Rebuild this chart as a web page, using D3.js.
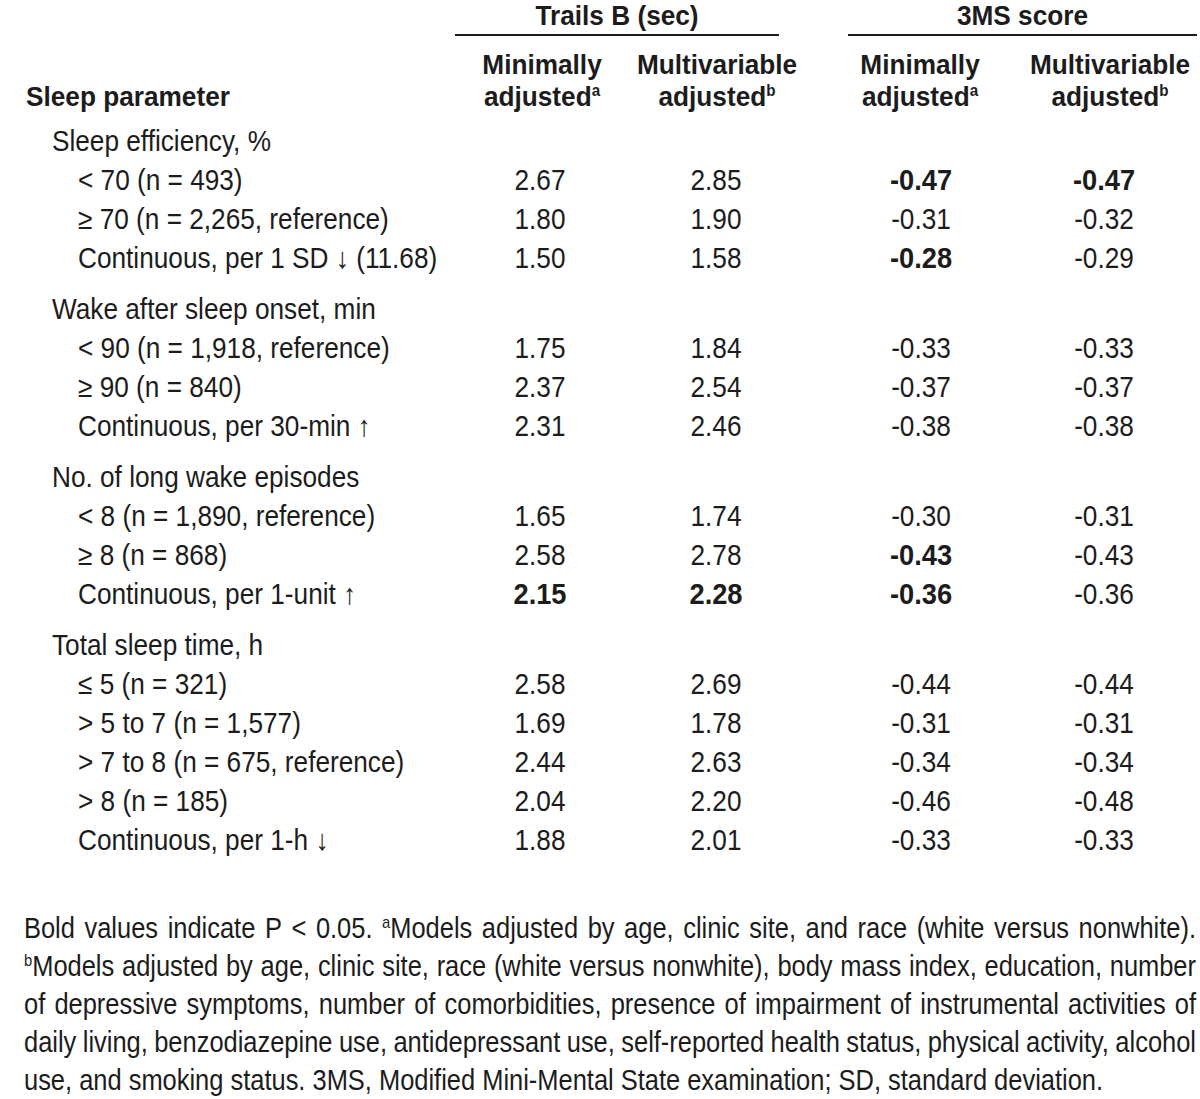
<!DOCTYPE html>
<html>
<head>
<meta charset="utf-8">
<script src="https://cdn.jsdelivr.net/npm/d3@7"></script>
<style>
  html, body { margin: 0; padding: 0; background: #fff; }
  svg { display: block; }
</style>
</head>
<body>
<svg id="chart" width="1200" height="1099"></svg>
<script>
// ---------------- DATA ----------------
const columnGroups = ["Trails B (sec)", "3MS score"];
const columnKeys = ["trailsMin", "trailsMulti", "msMin", "msMulti"];
const columnHeaders = [
  ["Minimally", "adjusted", "a"],
  ["Multivariable", "adjusted", "b"],
  ["Minimally", "adjusted", "a"],
  ["Multivariable", "adjusted", "b"]
];
const rowHeaderTitle = "Sleep parameter";

// kind: "g" = group heading, "r" = data row
const rowKinds = ["g","r","r","r","g","r","r","r","g","r","r","r","g","r","r","r","r","r"];
const rowLabels = [
  "Sleep efficiency, %",
  "< 70 (n = 493)",
  "≥ 70 (n = 2,265, reference)",
  "Continuous, per 1 SD ↓ (11.68)",
  "Wake after sleep onset, min",
  "< 90 (n = 1,918, reference)",
  "≥ 90 (n = 840)",
  "Continuous, per 30-min ↑",
  "No. of long wake episodes",
  "< 8 (n = 1,890, reference)",
  "≥ 8 (n = 868)",
  "Continuous, per 1-unit ↑",
  "Total sleep time, h",
  "≤ 5 (n = 321)",
  "> 5 to 7 (n = 1,577)",
  "> 7 to 8 (n = 675, reference)",
  "> 8 (n = 185)",
  "Continuous, per 1-h ↓"
];
const trailsMin   = [null,"2.67","1.80","1.50",null,"1.75","2.37","2.31",null,"1.65","2.58","2.15",null,"2.58","1.69","2.44","2.04","1.88"];
const trailsMulti = [null,"2.85","1.90","1.58",null,"1.84","2.54","2.46",null,"1.74","2.78","2.28",null,"2.69","1.78","2.63","2.20","2.01"];
const msMin       = [null,"-0.47","-0.31","-0.28",null,"-0.33","-0.37","-0.38",null,"-0.30","-0.43","-0.36",null,"-0.44","-0.31","-0.34","-0.46","-0.33"];
const msMulti     = [null,"-0.47","-0.32","-0.29",null,"-0.33","-0.37","-0.38",null,"-0.31","-0.43","-0.36",null,"-0.44","-0.31","-0.34","-0.48","-0.33"];
// bold = P < 0.05
const trailsMinBold   = [0,0,0,0,0,0,0,0,0,0,0,1,0,0,0,0,0,0];
const trailsMultiBold = [0,0,0,0,0,0,0,0,0,0,0,1,0,0,0,0,0,0];
const msMinBold       = [0,1,0,1,0,0,0,0,0,0,1,1,0,0,0,0,0,0];
const msMultiBold     = [0,1,0,0,0,0,0,0,0,0,0,0,0,0,0,0,0,0];

const footnoteLines = [
  [{t:"Bold values indicate P < 0.05. "},{t:"a",sup:true},{t:"Models adjusted by age, clinic site, and race (white versus nonwhite)."}],
  [{t:"b",sup:true},{t:"Models adjusted by age, clinic site, race (white versus nonwhite), body mass index, education, number"}],
  [{t:"of depressive symptoms, number of comorbidities, presence of impairment of instrumental activities of"}],
  [{t:"daily living, benzodiazepine use, antidepressant use, self-reported health status, physical activity, alcohol"}],
  [{t:"use, and smoking status. 3MS, Modified Mini-Mental State examination; SD, standard deviation."}]
];
const footnoteJustified = [true, true, true, true, false];

// ---------------- DRAW ----------------
const svg = d3.select("#chart");
const FONT = "'Liberation Sans Narrow','Arial Narrow','Liberation Sans',Arial,sans-serif";
const COLOR = "#1c1c1c";
const FS = 29;      // body size
const FSH = 27.5;   // header size

function measure(str, weight, size) {
  const t = svg.append("text").attr("font-family", FONT).attr("font-size", size)
    .attr("font-weight", weight).text(str);
  const w = t.node().getComputedTextLength();
  t.remove();
  return w;
}
const sxReg  = 311 / measure("≥ 70 (n = 2,265, reference)", "normal", FS);
const sxBold = sxReg * measure("2.15", "normal", FS) / measure("2.15", "bold", FS) * 1.04;
const sxHead = 204 / measure("Sleep parameter", "bold", FSH);
const sxFoot = 1080 / measure(footnoteLines[4][0].t, "normal", FS);

// segments: [{t, sup}]
function addText(parent, x, y, segs, opt) {
  opt = opt || {};
  const bold = !!opt.bold;
  const size = opt.size || FS;
  const sx = opt.sx || (bold ? sxBold : sxReg);
  const g = parent.append("g").attr("transform", `translate(${x},${y}) scale(${sx},1)`);
  const t = g.append("text")
    .attr("x", 0).attr("y", 0)
    .attr("font-family", FONT)
    .attr("font-size", size)
    .attr("font-weight", bold ? "bold" : "normal")
    .attr("fill", COLOR)
    .attr("text-anchor", opt.anchor || "start");
  if (typeof segs === "string") segs = [{t: segs}];
  segs.forEach(s => {
    const ts = t.append("tspan").text(s.t);
    if (s.sup) ts.attr("font-size", size * 0.58).attr("dy", -size * 0.36);
    else if (s.afterSup) ts.attr("dy", size * 0.36);
  });
  return {g, t, sx, width: t.node().getComputedTextLength() * sx};
}
const head = {bold: true, size: FSH, sx: sxHead};

// x scales
const xCol = d3.scaleOrdinal().domain(columnKeys).range([540, 716, 921, 1104]);
const xHead = d3.scaleOrdinal().domain(columnKeys).range([542, 717, 920, 1110]);
const groupSpan = d3.scaleOrdinal().domain(columnGroups).range([[455, 779], [848, 1197]]);

// y scale over cumulative row units
const GROUP_GAP = 1.32;
const rowUnits = [];
rowKinds.reduce((acc, k, i) => {
  const u = i === 0 ? 0 : acc + (k === "g" ? GROUP_GAP : 1);
  rowUnits.push(u);
  return u;
}, 0);
const yRow = d3.scaleLinear().domain([0, rowUnits[rowUnits.length - 1]]).range([151, 850]);

// Column group headers
columnGroups.forEach(name => {
  const [a, b] = groupSpan(name);
  addText(svg, (a + b) / 2, 25, name, Object.assign({anchor: "middle"}, head));
  svg.append("line").attr("x1", a).attr("x2", b).attr("y1", 35).attr("y2", 35)
    .attr("stroke", COLOR).attr("stroke-width", 2);
});

// Sub-column headers
columnKeys.forEach((k, i) => {
  const h = columnHeaders[i];
  addText(svg, xHead(k), 74, h[0], Object.assign({anchor: "middle"}, head));
  addText(svg, xHead(k), 106, [{t: h[1]}, {t: h[2], sup: true}], Object.assign({anchor: "middle"}, head));
});
addText(svg, 26, 106, rowHeaderTitle, head);

// Rows
const valueSets = {trailsMin, trailsMulti, msMin, msMulti};
const boldSets = {trailsMin: trailsMinBold, trailsMulti: trailsMultiBold, msMin: msMinBold, msMulti: msMultiBold};
rowLabels.forEach((lab, i) => {
  const y = yRow(rowUnits[i]);
  addText(svg, rowKinds[i] === "g" ? 52 : 78, y, lab);
  columnKeys.forEach(k => {
    const v = valueSets[k][i];
    if (v != null) addText(svg, xCol(k), y, v, {bold: !!boldSets[k][i], anchor: "middle"});
  });
});

// Footnote
const FN_LEFT = 24, FN_RIGHT = 1196;
const yFoot = d3.scaleLinear().domain([0, 4]).range([938, 1090]);
footnoteLines.forEach((segs, li) => {
  const y = yFoot(li);
  const words = [];
  let pendingSup = null;
  segs.forEach(s => {
    if (s.sup) { pendingSup = s.t; return; }
    s.t.split(" ").filter(w => w.length).forEach((w, wi) => {
      if (pendingSup && wi === 0 && !s.t.startsWith(" ")) {
        words.push([{t: pendingSup, sup: true}, {t: w, afterSup: true}]);
        pendingSup = null;
      } else words.push([{t: w}]);
    });
  });
  if (!footnoteJustified[li]) {
    addText(svg, FN_LEFT, y, words.map(w => w.map(s => s.t).join("")).join(" "), {sx: sxFoot});
    return;
  }
  const items = words.map(w => addText(svg, 0, y, w, {sx: sxFoot}));
  const total = d3.sum(items, d => d.width);
  const gap = (FN_RIGHT - FN_LEFT - total) / (items.length - 1);
  let x = FN_LEFT;
  items.forEach(it => {
    it.g.attr("transform", `translate(${x},${y}) scale(${sxFoot},1)`);
    x += it.width + gap;
  });
});
</script>
</body>
</html>
